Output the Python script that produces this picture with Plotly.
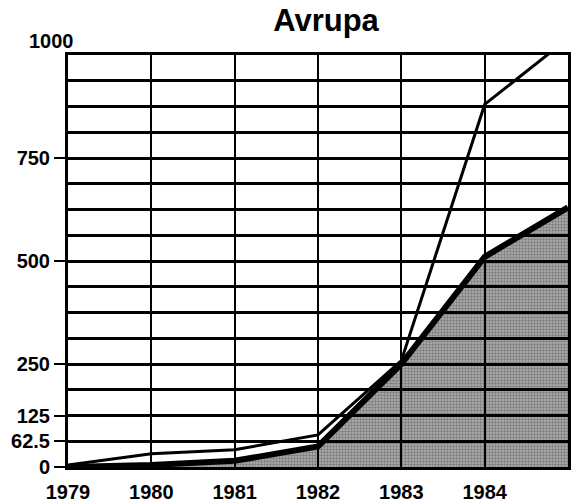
import plotly.graph_objects as go

years = [1979, 1980, 1981, 1982, 1983, 1984, 1985]
total_line = [5, 32, 42, 78, 258, 880, 1040]
shaded_line = [0, 5, 15, 50, 250, 510, 630]

x_tick_vals = [1979, 1980, 1981, 1982, 1983, 1984]
x_tick_text = ["1979", "1980", "1981", "1982", "1983", "1984"]
y_tick_vals = [0, 62.5, 125, 250, 500, 750]
y_tick_text = ["0", "62.5", "125", "250", "500", "750"]
title_text = "Avrupa"

FONT = "Liberation Sans, Arial, sans-serif"
TICKFONT = dict(family=FONT, size=20, color="black", weight="bold")

fig = go.Figure()
fig.add_trace(go.Scatter(
    x=years, y=shaded_line, mode="lines",
    line=dict(color="black", width=6),
    fill="tozeroy",
    fillcolor="rgba(0,0,0,0.35)",
    fillpattern=dict(shape=".", fgcolor="rgba(0,0,0,0.6)", bgcolor="rgba(0,0,0,0.30)",
                     size=3, solidity=0.5),
    hoverinfo="skip", showlegend=False,
))
fig.add_trace(go.Scatter(
    x=years, y=total_line, mode="lines",
    line=dict(color="black", width=3),
    hoverinfo="skip", showlegend=False,
))

fig.update_layout(
    width=584, height=503,
    margin=dict(l=68, r=16, t=55, b=36, autoexpand=False),
    paper_bgcolor="white", plot_bgcolor="white",
    font=dict(family=FONT, size=20, color="black"),
    title=dict(text="<b>" + title_text + "</b>", x=0.516, xref="paper", xanchor="center",
               y=0.96, yref="container", yanchor="middle",
               font=dict(family=FONT, size=31, color="black")),
    xaxis=dict(range=[1979, 1985], tickvals=x_tick_vals, ticktext=x_tick_text,
               showgrid=True, gridcolor="black", gridwidth=2,
               showline=True, mirror=True, linecolor="black", linewidth=3,
               ticks="", ticklabelstandoff=5, zeroline=False, automargin=False,
               tickfont=TICKFONT),
    yaxis=dict(range=[0, 1000], tickvals=y_tick_vals, ticktext=y_tick_text,
               showgrid=True, gridcolor="black", gridwidth=2.5,
               minor=dict(tick0=0, dtick=62.5, showgrid=True, gridcolor="black", gridwidth=2.5),
               showline=True, mirror=True, linecolor="black", linewidth=3,
               ticks="outside", ticklen=11, tickwidth=2, tickcolor="black",
               zeroline=False, automargin=False, tickfont=TICKFONT),
    annotations=[dict(text="<b>1000</b>", xref="paper", x=-0.034, yref="y", y=1000,
                      yshift=14, xanchor="center", yanchor="middle", showarrow=False,
                      font=dict(family=FONT, size=20, color="black"))],
)

fig.write_html("out.html",
               config={"displayModeBar": False},
               post_script="document.body.style.margin='0';document.body.style.overflow='hidden';")
